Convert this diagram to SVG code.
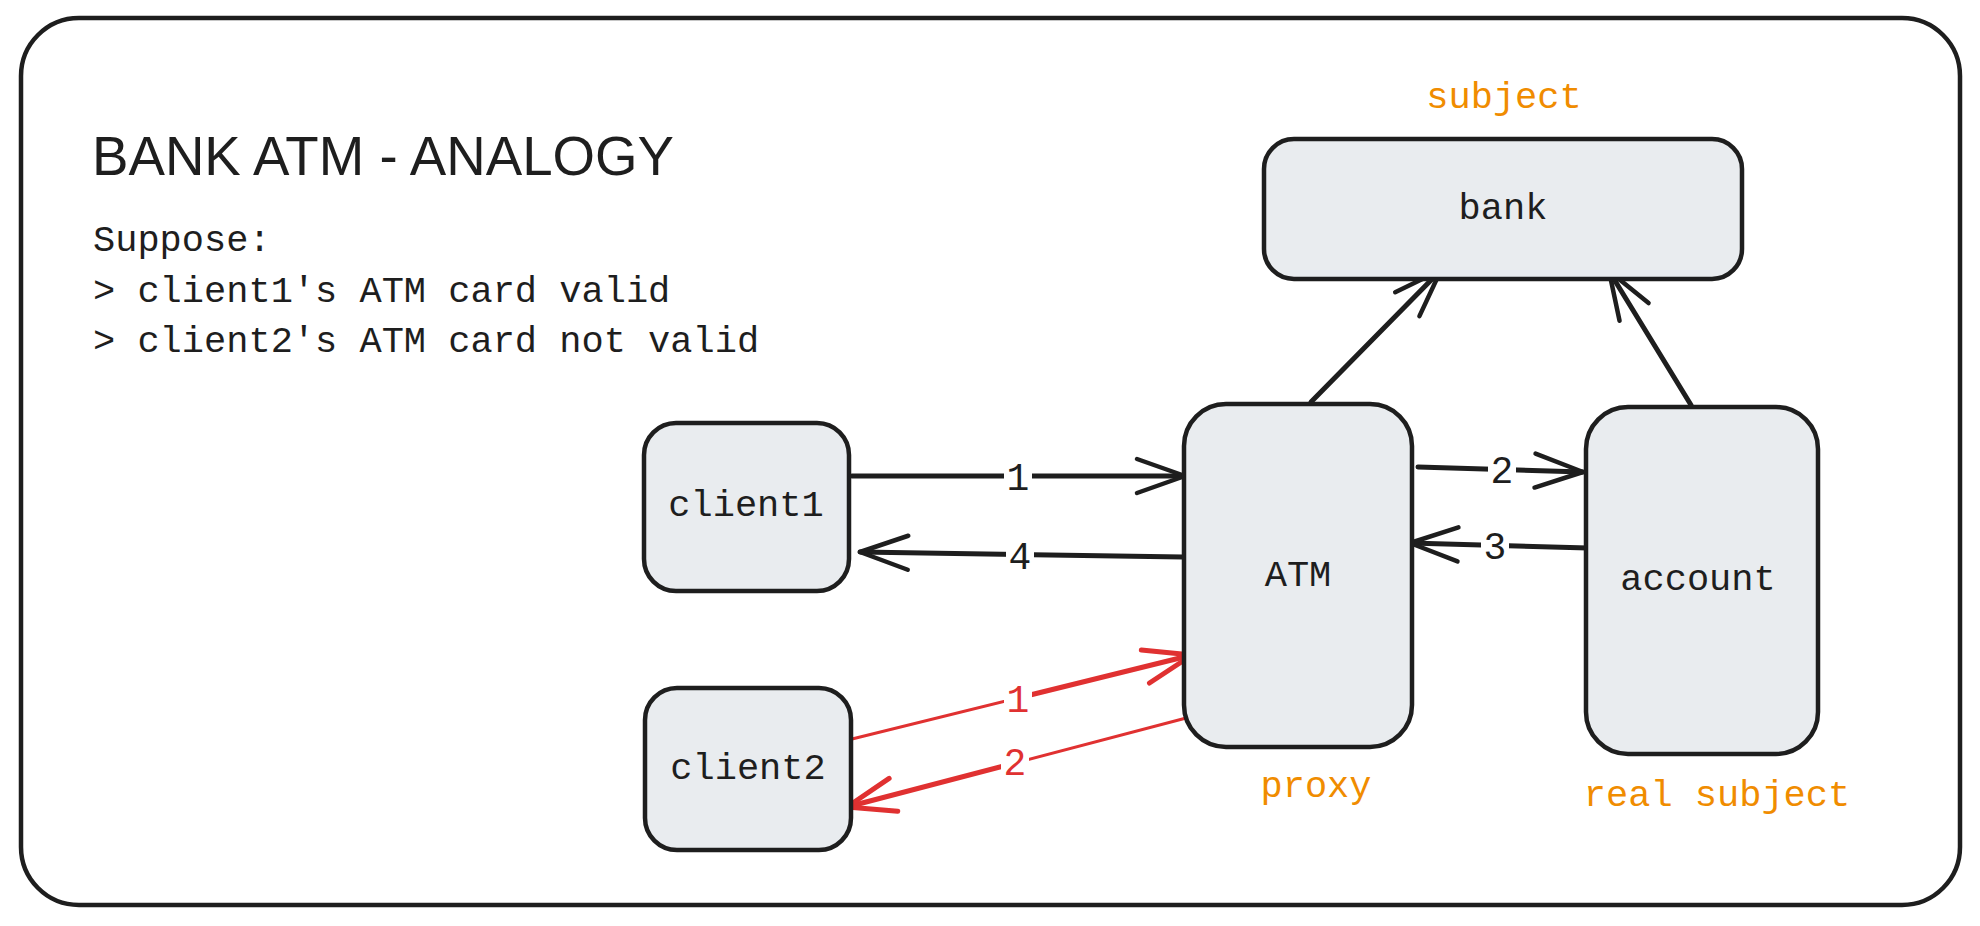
<svg xmlns="http://www.w3.org/2000/svg" width="1980" height="926" viewBox="0 0 1980 926">
<style>
.frame{fill:#ffffff;stroke:#1e1e1e;stroke-width:4.5}
.box{fill:#e9ecef;stroke:#1e1e1e;stroke-width:4.5}
.t{font-family:"Liberation Mono","DejaVu Sans Mono",monospace;font-size:37px;fill:#1e1e1e}
.c{text-anchor:middle}
.o{fill:#f08c00}
.title{font-family:"Liberation Sans","DejaVu Sans",sans-serif;font-size:56px;fill:#1e1e1e}
.ln{fill:none;stroke:#1e1e1e;stroke-width:5;stroke-linecap:round}
.rl{fill:none;stroke:#e03131;stroke-width:3;stroke-linecap:round}
.rk{fill:none;stroke:#e03131;stroke-width:5;stroke-linecap:round}
.lb{fill:#ffffff}
.n{font-family:"Liberation Mono","DejaVu Sans Mono",monospace;font-size:38px;text-anchor:middle;fill:#1e1e1e}
.nr{fill:#e03131}
</style>
<defs>
<marker id="ab" viewBox="-56 -26 62 52" markerWidth="62" markerHeight="52" refX="0" refY="0" orient="auto" markerUnits="userSpaceOnUse">
<path d="M-48,-17 L0,0 L-48,17" fill="none" stroke="#1e1e1e" stroke-width="4.5" stroke-linecap="round" stroke-linejoin="round"/>
</marker>
<marker id="ar" viewBox="-56 -26 62 52" markerWidth="62" markerHeight="52" refX="0" refY="0" orient="auto" markerUnits="userSpaceOnUse">
<path d="M-48,-17 L0,0 L-48,17" fill="none" stroke="#e03131" stroke-width="5" stroke-linecap="round" stroke-linejoin="round"/>
</marker>
</defs>
<rect width="1980" height="926" fill="#ffffff"/>
<rect class="frame" x="21" y="18" width="1939" height="887" rx="58"/>
<g id="notes">
<text class="title" x="92" y="175" textLength="582" lengthAdjust="spacingAndGlyphs">BANK ATM - ANALOGY</text>
<text class="t" x="93" y="251">Suppose:</text>
<text class="t" x="93" y="302">&gt; client1's ATM card valid</text>
<text class="t" x="93" y="352">&gt; client2's ATM card not valid</text>
</g>
<g id="connectors">
<path class="ln" d="M852,476 L1185,476" marker-end="url(#ab)"/>
<path class="ln" d="M1183,557 L860,552" marker-end="url(#ab)"/>
<path class="ln" d="M1418,467 L1583,472" marker-end="url(#ab)"/>
<path class="ln" d="M1588,548 L1410,543" marker-end="url(#ab)"/>
<path class="ln" d="M1311,402 L1441,270" marker-end="url(#ab)"/>
<path class="ln" d="M1691,405 L1609,271" marker-end="url(#ab)"/>
<path class="rl" d="M852,739 L1018,698"/>
<path class="rk" d="M1018,698 L1192,655" marker-end="url(#ar)"/>
<path class="rl" d="M1190,717 L1015,763"/>
<path class="rk" d="M1015,763 L847,807" marker-end="url(#ar)"/>
<rect class="lb" x="1004" y="456" width="28" height="40"/>
<text class="n" x="1018" y="490">1</text>
<rect class="lb" x="1006" y="535" width="28" height="40"/>
<text class="n" x="1020" y="569">4</text>
<rect class="lb" x="1488" y="449" width="28" height="40"/>
<text class="n" x="1502" y="483">2</text>
<rect class="lb" x="1481" y="525" width="28" height="40"/>
<text class="n" x="1495" y="559">3</text>
<rect class="lb" x="1004" y="678" width="28" height="40"/>
<text class="n nr" x="1018" y="712">1</text>
<rect class="lb" x="1001" y="741" width="28" height="40"/>
<text class="n nr" x="1015" y="775">2</text>
</g>
<g id="bank">
<rect class="box" x="1264" y="139" width="478" height="140" rx="30"/>
<text class="t c" x="1503" y="219">bank</text>
<text class="t c o" x="1504" y="108">subject</text>
</g>
<g id="atm">
<rect class="box" x="1184" y="404" width="228" height="343" rx="42"/>
<text class="t c" x="1298" y="586">ATM</text>
<text class="t c o" x="1316" y="797">proxy</text>
</g>
<g id="account">
<rect class="box" x="1586" y="407" width="232" height="347" rx="42"/>
<text class="t c" x="1698" y="590">account</text>
<text class="t c o" x="1717" y="806">real subject</text>
</g>
<g id="client1">
<rect class="box" x="644" y="423" width="205" height="168" rx="32"/>
<text class="t c" x="746" y="516">client1</text>
</g>
<g id="client2">
<rect class="box" x="645" y="688" width="206" height="162" rx="32"/>
<text class="t c" x="748" y="779">client2</text>
</g>
</svg>
